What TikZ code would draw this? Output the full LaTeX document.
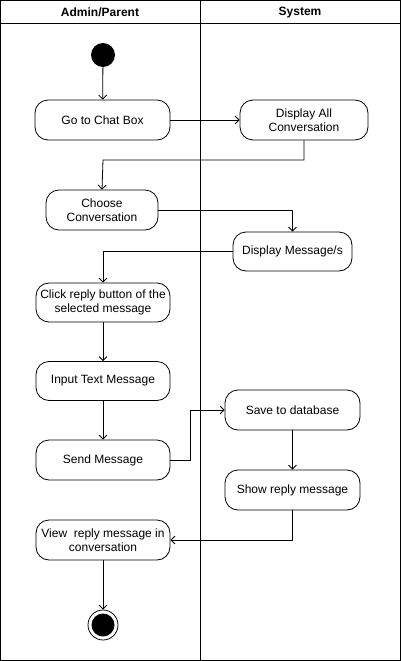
\documentclass[tikz,border=0pt]{standalone}
\usepackage{fontspec}
\setmainfont{Liberation Sans}
\usetikzlibrary{arrows.meta}
\begin{document}
\begin{tikzpicture}[x=1pt,y=-1pt,
  act/.style={draw,rounded corners=13pt,minimum height=40pt,align=center,font=\fontsize{12}{14}\selectfont,inner sep=1pt,line width=0.8pt},
  flow/.style={-{Straight Barb[length=4pt,width=8pt]},line width=0.8pt},
  lane/.style={line width=0.8pt},
  hdr/.style={font=\bfseries\fontsize{12}{14}\selectfont}]
\useasboundingbox (0,0) rectangle (401,661);
% swimlanes
\draw[lane] (0.5,0.5) rectangle (400.5,660.5);
\draw[lane] (0.5,23) -- (400.5,23);
\draw[lane] (200.5,0.5) -- (200.5,660.5);
\node[hdr] (h1) at (100,12.5) {Admin/Parent};
\node[hdr] (h2) at (300,12.5) {System};
% nodes
\node[circle,fill=black,minimum size=24pt,inner sep=0pt] (start) at (103,55) {};
\node[act,minimum width=135pt] (go) at (102.5,120) {Go to Chat Box};
\node[act,minimum width=128pt] (disp) at (304,120) {Display All\\Conversation};
\node[act,minimum width=112pt] (choose) at (102,210) {Choose\\Conversation};
\node[act,minimum width=119pt,minimum height=39pt] (dmsg) at (292.5,251.5) {Display Message/s};
\node[act,minimum width=134pt,minimum height=39pt] (click) at (103,302.5) {Click reply button of the\\selected message};
\node[act,minimum width=134pt,minimum height=39pt] (input) at (103,381) {Input Text Message};
\node[act,minimum width=134pt] (send) at (103,460) {Send Message};
\node[act,minimum width=135pt] (save) at (292.5,410) {Save to database};
\node[act,minimum width=135pt] (show) at (292.5,490) {Show reply message};
\node[act,minimum width=134pt] (view) at (103,540) {View\ \ reply message in\\conversation};
\node[circle,draw,line width=0.8pt,minimum size=30pt,inner sep=0pt] (end) at (103,625) {};
\node[circle,fill=black,minimum size=23pt,inner sep=0pt] at (end) {};
% flows
\draw[flow] (start) -- (go);
\draw[flow] (go) -- (disp);
\draw[flow] (disp.south) |- (103,160) -- (choose.north);
\draw[flow] (choose.east) -| (dmsg.north);
\draw[flow] (dmsg.west) -| (click.north);
\draw[flow] (click) -- (input);
\draw[flow] (input) -- (send);
\draw[flow] (send.east) -| (190,410) -- (save.west);
\draw[flow] (save) -- (show);
\draw[flow] (show.south) |- (view.east);
\draw[flow] (view) -- (end);
\end{tikzpicture}
\end{document}
